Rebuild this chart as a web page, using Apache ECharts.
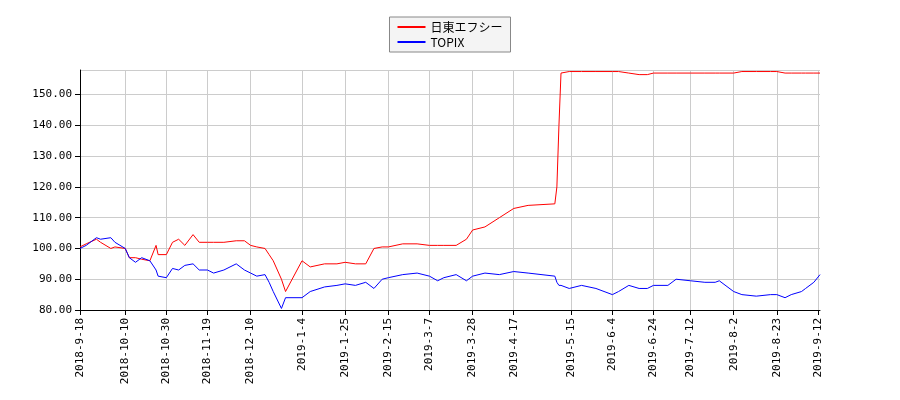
<!DOCTYPE html>
<html>
<head>
<meta charset="utf-8">
<script src="https://cdn.jsdelivr.net/npm/echarts@6/dist/echarts.min.js"></script>
<style>body{margin:0;background:#fff}#chart{width:900px;height:400px}</style>
</head>
<body>
<div id="chart"></div>
<script>
// sample dates, value arrays share these dates
const dates = [
  "2018-09-18","2018-09-21","2018-09-26","2018-09-28","2018-10-03","2018-10-05","2018-10-10","2018-10-12",
  "2018-10-15","2018-10-18","2018-10-22","2018-10-25","2018-10-26","2018-10-30","2018-11-02","2018-11-05",
  "2018-11-08","2018-11-12","2018-11-15","2018-11-19","2018-11-22","2018-11-27","2018-12-03","2018-12-07",
  "2018-12-10","2018-12-13","2018-12-17","2018-12-19","2018-12-21","2018-12-25","2018-12-27","2019-01-04",
  "2019-01-08","2019-01-15","2019-01-21","2019-01-25","2019-01-30","2019-02-04","2019-02-08","2019-02-12",
  "2019-02-15","2019-02-22","2019-03-01","2019-03-07","2019-03-11","2019-03-14","2019-03-20","2019-03-25",
  "2019-03-28","2019-04-03","2019-04-10","2019-04-17","2019-04-24","2019-05-07","2019-05-08","2019-05-09",
  "2019-05-10","2019-05-14","2019-05-20","2019-05-27","2019-06-04","2019-06-07","2019-06-12","2019-06-17",
  "2019-06-21","2019-06-24","2019-07-01","2019-07-05","2019-07-12","2019-07-19","2019-07-24","2019-07-26",
  "2019-08-02","2019-08-06","2019-08-13","2019-08-20","2019-08-23","2019-08-27","2019-08-30","2019-09-04",
  "2019-09-06","2019-09-10","2019-09-13"
];
const nittoValues = [
  100.5,101.5,103,102,100,100.5,100,97,
  97,96.5,96,101,98,98,102,103,
  101,104.5,102,102,102,102,102.5,102.5,
  101,100.5,100,98,96,90,86,96,
  94,95,95,95.5,95,95,100,100.5,
  100.5,101.5,101.5,101,101,101,101,103,
  106,107,110,113,114,114.5,120,140,
  157,157.5,157.5,157.5,157.5,157.5,157,156.5,
  156.5,157,157,157,157,157,157,157,
  157,157.5,157.5,157.5,157.5,157,157,157,
  157,157,157
];
const topixValues = [
  100,101,103.5,103,103.5,102,100,97,
  95.5,97,96,93,91,90.5,93.5,93,
  94.5,95,93,93,92,93,95,93,
  92,91,91.5,89,86,80.5,84,84,
  86,87.5,88,88.5,88,89,87,90,
  90.5,91.5,92,91,89.5,90.5,91.5,89.5,
  91,92,91.5,92.5,92,91,89,88,
  88,87,88,87,85,86,88,87,
  87,88,88,90,89.5,89,89,89.5,
  86,85,84.5,85,85,84,85,86,
  87,89,91.5
];
const tickDates = [
  "2018-09-18","2018-10-10","2018-10-30","2018-11-19","2018-12-10","2019-01-04","2019-01-25","2019-02-15",
  "2019-03-07","2019-03-28","2019-04-17","2019-05-15","2019-06-04","2019-06-24","2019-07-12","2019-08-02",
  "2019-08-23","2019-09-12"
];

const toTime = (d) => new Date(d + "T00:00:00Z").getTime();
const pairs = (vals) => dates.map((d, i) => [toTime(d), vals[i]]);
const fmt = (t) => { const d = new Date(t); return d.getUTCFullYear() + "-" + (d.getUTCMonth() + 1) + "-" + d.getUTCDate(); };
const tickTimes = tickDates.map(toTime);

const chart = echarts.init(document.getElementById("chart"));
chart.setOption({
  animation: false,
  textStyle: { fontFamily: "DejaVu Sans Mono" },
  legend: {
    top: 17, left: "center", orient: "vertical", itemGap: 3,
    borderColor: "#888", borderWidth: 1, padding: [4, 8],
    backgroundColor: "#f4f4f4",
    itemWidth: 28, itemHeight: 2, icon: "rect",
    textStyle: { fontFamily: "Noto Sans CJK JP", fontSize: 12, color: "#000" },
    data: ["日東エフシー", "TOPIX"]
  },
  grid: { left: 80, right: 80, top: 70, bottom: 90 },
  xAxis: {
    type: "value",
    min: toTime("2018-09-18"), max: toTime("2019-09-13"),
    axisLine: { onZero: false, lineStyle: { color: "#000" } },
    axisTick: { customValues: tickTimes, lineStyle: { color: "#000" } },
    axisLabel: {
      customValues: tickTimes, rotate: 90, color: "#000", fontSize: 11,
      formatter: (v) => fmt(v)
    },
    splitLine: { show: true, lineStyle: { color: "#ccc" } }
  },
  yAxis: {
    type: "value", min: 80, max: 158, interval: 10,
    axisLine: { show: true, lineStyle: { color: "#000" } },
    axisTick: { show: true },
    axisLabel: { color: "#000", fontSize: 11, formatter: (v) => v.toFixed(2), showMaxLabel: false },
    splitLine: { lineStyle: { color: "#ccc" } }
  },
  series: [
    { name: "日東エフシー", type: "line", data: pairs(nittoValues), showSymbol: false, lineStyle: { color: "#f00", width: 1 }, itemStyle: { color: "#f00" } },
    { name: "TOPIX", type: "line", data: pairs(topixValues), showSymbol: false, lineStyle: { color: "#00f", width: 1 }, itemStyle: { color: "#00f" } }
  ]
});
</script>
</body>
</html>
